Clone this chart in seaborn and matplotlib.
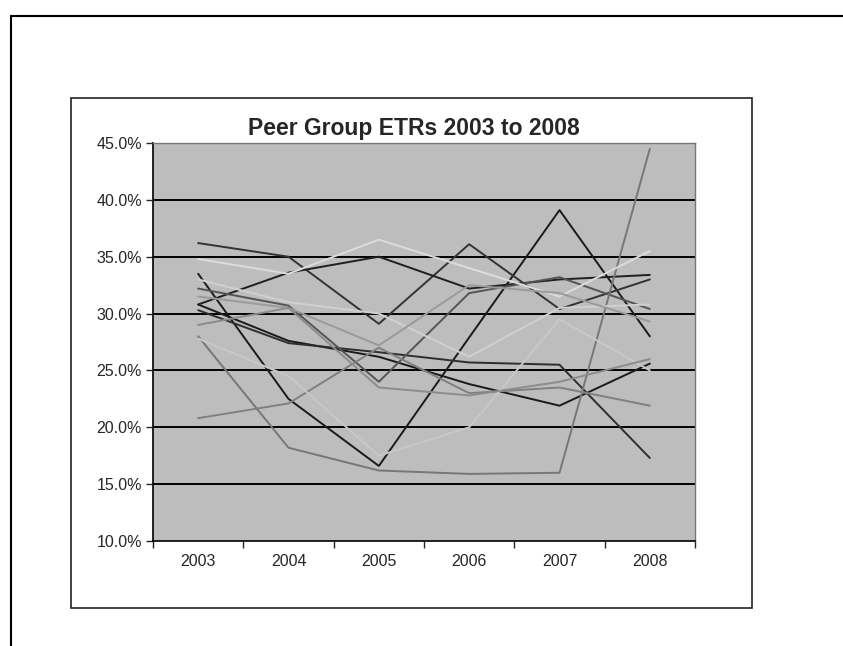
import numpy as np
import pandas as pd
import seaborn as sns
import matplotlib.pyplot as plt
from matplotlib.patches import Rectangle
from matplotlib.lines import Line2D
from matplotlib.ticker import FixedLocator, PercentFormatter

years = ["2003", "2004", "2005", "2006", "2007", "2008"]

# effective tax rates (%) of each peer
peer_a = [33.5, 22.5, 16.6, 27.9, 39.1, 28.0]
peer_b = [30.8, 27.6, 26.2, 23.8, 21.9, 25.6]
peer_c = [30.3, 27.4, 26.6, 25.7, 25.5, 17.3]
peer_d = [36.2, 35.0, 29.1, 36.1, 30.4, 33.0]
peer_e = [30.8, 33.6, 35.0, 32.2, 33.0, 33.4]
peer_f = [32.2, 30.7, 24.0, 31.8, 33.2, 30.4]
peer_g = [28.0, 18.2, 16.2, 15.9, 16.0, 44.5]
peer_h = [20.8, 22.1, 27.0, 23.0, 23.5, 21.9]
peer_i = [34.8, 33.5, 36.5, 34.0, 31.5, 35.5]
peer_j = [33.0, 31.0, 30.0, 26.2, 30.5, 30.8]
peer_k = [27.8, 24.5, 17.5, 20.0, 29.5, 25.0]
peer_l = [31.5, 30.5, 27.2, 32.5, 31.8, 29.3]
peer_m = [29.0, 30.5, 23.5, 22.8, 24.0, 26.0]

peers = {"A": peer_a, "B": peer_b, "C": peer_c, "D": peer_d, "E": peer_e,
         "F": peer_f, "G": peer_g, "H": peer_h, "I": peer_i, "J": peer_j,
         "K": peer_k, "L": peer_l, "M": peer_m}

shades = {"A": "#1a1a1a", "B": "#1a1a1a", "C": "#2e2e2e", "D": "#333333",
          "E": "#1f1f1f", "F": "#555555", "G": "#777777", "H": "#808080",
          "I": "#dcdcdc", "J": "#d0d0d0", "K": "#c8c8c8", "L": "#9a9a9a",
          "M": "#8c8c8c"}

rows = []
for name, vals in peers.items():
    for i, v in enumerate(vals):
        rows.append({"peer": name, "pos": i, "etr": v})
df = pd.DataFrame(rows)

sns.set_style("white")
plt.rcParams['font.family'] = ['Liberation Sans', 'DejaVu Sans']

fig = plt.figure(figsize=(8.43, 6.46), dpi=100)
fig.patch.set_facecolor("white")

# scanned page frame and chart area box
fig.add_artist(Line2D([11 / 843, 11 / 843], [0, 1 - 16 / 646], color="black", lw=1.5))
fig.add_artist(Line2D([11 / 843, 1], [1 - 16 / 646, 1 - 16 / 646], color="black", lw=1.5))
fig.add_artist(Rectangle((71 / 843, 1 - 608 / 646), 681 / 843, 510 / 646,
                         fill=False, edgecolor="#222222", lw=1.2))

ax = fig.add_axes([153 / 843, 1 - 541 / 646, 542 / 843, 398 / 646])
ax.set_facecolor("#bdbdbd")

for y in range(15, 45, 5):
    ax.axhline(y, color="black", lw=1.4, zorder=1)

sns.lineplot(data=df, x="pos", y="etr", hue="peer", palette=shades,
             legend=False, lw=1.4, ax=ax, zorder=2)

ax.set_xlim(-0.5, 5.5)
ax.set_ylim(10, 45)
ax.set_xticks(range(6))
ax.set_xticklabels(years)
ax.xaxis.set_minor_locator(FixedLocator(np.arange(-0.5, 6, 1)))
ax.tick_params(axis="x", which="major", length=0, pad=9, labelsize=11.5)
ax.tick_params(axis="x", which="minor", length=5, width=1, direction="out", bottom=True)
ax.set_yticks(np.arange(10, 46, 5))
ax.yaxis.set_major_formatter(PercentFormatter(decimals=1))
ax.tick_params(axis="y", length=5, width=1, direction="out", left=True, labelsize=11.5, pad=3)
ax.set_xlabel("")
ax.set_ylabel("")

for side in ["left", "bottom"]:
    ax.spines[side].set_color("black")
    ax.spines[side].set_linewidth(1.2)
for side in ["top", "right"]:
    ax.spines[side].set_color("#777777")
    ax.spines[side].set_linewidth(1.0)

fig.text(414 / 843, 1 - 128 / 646, "Peer Group ETRs 2003 to 2008",
         ha="center", va="center", fontsize=16.5, fontweight="bold")

fig.savefig("out.png", dpi=100)
